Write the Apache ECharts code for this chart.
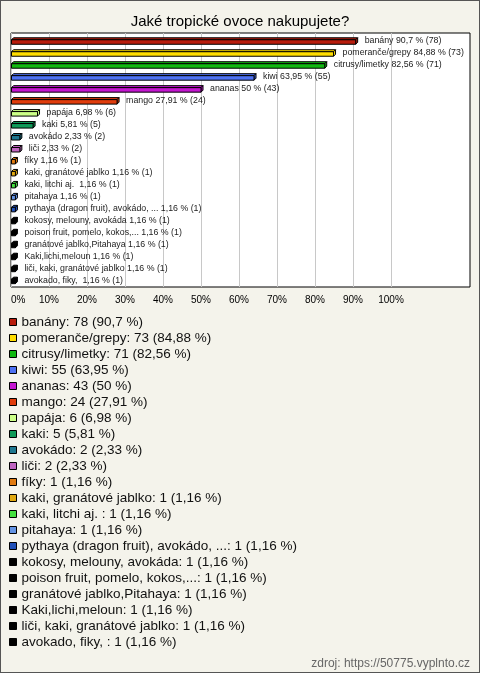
<!DOCTYPE html>
<html>
<head>
<meta charset="utf-8">
<script src="https://cdn.jsdelivr.net/npm/echarts@6/dist/echarts.min.js"></script>
<style>
html,body{margin:0;padding:0;background:#f4f3eb;}
#wrap{position:relative;width:480px;height:673px;}
#chart{width:480px;height:673px;}
#frame{position:absolute;left:0;top:0;width:480px;height:673px;box-sizing:border-box;border:1px solid #555;pointer-events:none;}
</style>
</head>
<body>
<div id="wrap"><div id="chart"></div><div id="frame"></div></div>
<script>
const categories = [
  "banány", "pomeranče/grepy", "citrusy/limetky", "kiwi", "ananas", "mango",
  "papája", "kaki", "avokádo", "liči", "fíky", "kaki, granátové jablko",
  "kaki, litchi aj. ", "pitahaya", "pythaya (dragon fruit), avokádo, ...",
  "kokosy, melouny, avokáda", "poison fruit, pomelo, kokos,...",
  "granátové jablko,Pitahaya", "Kaki,lichi,meloun", "liči, kaki, granátové jablko",
  "avokado, fiky, "
];
const counts = [78, 73, 71, 55, 43, 24, 6, 5, 2, 2, 1, 1, 1, 1, 1, 1, 1, 1, 1, 1, 1];
const percents = [90.7, 84.88, 82.56, 63.95, 50, 27.91, 6.98, 5.81, 2.33, 2.33, 1.16, 1.16, 1.16, 1.16, 1.16, 1.16, 1.16, 1.16, 1.16, 1.16, 1.16];
const colors = [
  "#b81c0c", "#ffdd00", "#10b810", "#4d71f2", "#c416d0", "#e03c0c",
  "#ccff88", "#0f9a58", "#207890", "#c065c0", "#e07a10", "#e0a810",
  "#44e040", "#6494e4", "#2050b8", "#000000", "#000000", "#000000",
  "#000000", "#000000", "#000000"
];
const xTicks = [0, 10, 20, 30, 40, 50, 60, 70, 80, 90, 100];

const fmt = v => String(v).replace('.', ',');
const FONT = '"Liberation Sans", Arial, sans-serif';

function renderItem(params, api) {
  const v = api.value(0), r = api.value(1);
  const p0 = api.coord([0, r]);
  const p1 = api.coord([v, r]);
  const color = api.visual('color');
  const h = 4.5, d = 2;
  const yc = p0[1] + 1;
  const x0 = p0[0] + 0.5, x1 = p1[0];
  const top = yc - h / 2, bot = yc + h / 2;
  const st = { fill: color, stroke: '#000', lineWidth: 1 };
  const name = categories[r];
  return {
    type: 'group',
    children: [
      { type: 'polygon', shape: { points: [[x0, top], [x1, top], [x1 + d, top - d], [x0 + d, top - d]] }, style: st },
      { type: 'polygon', shape: { points: [[x1, top], [x1 + d, top - d], [x1 + d, bot - d], [x1, bot]] }, style: st },
      { type: 'rect', shape: { x: x0, y: top, width: Math.max(x1 - x0, 0.5), height: h }, style: st },
      { type: 'text', style: { text: name + ' ' + fmt(percents[r]) + ' % (' + counts[r] + ')', x: x1 + 9, y: p0[1], verticalAlign: 'middle', fill: '#222', font: '8.8px ' + FONT } }
    ]
  };
}

const series = categories.map((c, i) => ({
  type: 'custom',
  name: c,
  coordinateSystem: 'cartesian2d',
  xAxisIndex: 0,
  yAxisIndex: 0,
  data: [[percents[i], i]],
  itemStyle: { color: colors[i] },
  renderItem: renderItem,
  clip: false,
  silent: true
}));

const chart = echarts.init(document.getElementById('chart'));
chart.setOption({
  backgroundColor: '#f4f3eb',
  animation: false,
  title: [
    { text: 'Jaké tropické ovoce nakupujete?', left: 'center', top: 9,
      textStyle: { fontFamily: FONT, fontSize: 15, fontWeight: 'normal', color: '#000' } },
    { text: 'zdroj: https://50775.vyplnto.cz', right: 5, top: 653,
      textStyle: { fontFamily: FONT, fontSize: 12, fontWeight: 'normal', color: '#666' } }
  ],
  grid: [
    { left: 11, width: 380, top: 33, height: 254, containLabel: false },
    { left: 11, right: 10, top: 33, height: 254, show: true, borderColor: '#000', borderWidth: 1, backgroundColor: '#fff', z: 0 }
  ],
  xAxis: [
    { type: 'value', gridIndex: 0, min: xTicks[0], max: xTicks[xTicks.length - 1], interval: 10,
      axisLine: { show: false }, axisTick: { show: false },
      splitLine: { show: true, lineStyle: { color: '#c8c8c8', width: 1 } },
      axisLabel: { formatter: '{value}%', fontFamily: FONT, fontSize: 10, color: '#000', margin: 8, alignMinLabel: 'left' } },
    { type: 'value', gridIndex: 1, show: false, splitLine: { show: false } }
  ],
  yAxis: [
    { type: 'value', gridIndex: 0, min: -0.67, max: 20.55, inverse: true, show: false, splitLine: { show: false } },
    { type: 'value', gridIndex: 1, show: false, splitLine: { show: false } }
  ],
  legend: {
    orient: 'vertical', left: 4, top: 309, itemGap: 0,
    itemWidth: 7, itemHeight: 7, icon: 'rect',
    itemStyle: { borderColor: '#000', borderWidth: 1 },
    selectedMode: false,
    data: categories,
    formatter: name => {
      const i = categories.indexOf(name);
      return name + ': ' + counts[i] + ' (' + fmt(percents[i]) + ' %)';
    },
    textStyle: { fontFamily: FONT, fontSize: 13.5, lineHeight: 16, color: '#111' }
  },
  series: series
});
</script>
</body>
</html>
